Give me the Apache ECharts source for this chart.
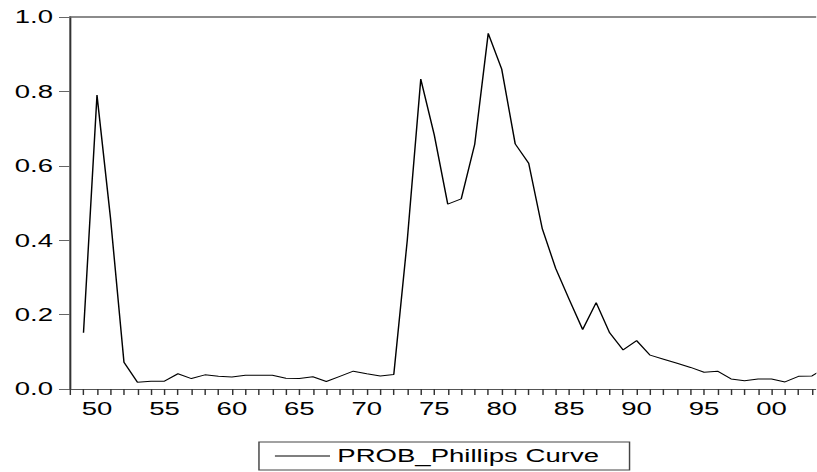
<!DOCTYPE html>
<html>
<head>
<meta charset="utf-8">
<script src="https://cdn.jsdelivr.net/npm/echarts@6/dist/echarts.min.js"></script>
<style>
  html, body { margin: 0; padding: 0; background: #fff; overflow: hidden; }
  #chart { width: 563.45px; height: 472px; transform: scaleX(1.45); transform-origin: 0 0; }
</style>
</head>
<body>
<div id="chart"></div>
<script>
// Data
var years = [1949,1950,1951,1952,1953,1954,1955,1956,1957,1958,1959,1960,1961,1962,1963,1964,1965,1966,1967,1968,1969,1970,1971,1972,1973,1974,1975,1976,1977,1978,1979,1980,1981,1982,1983,1984,1985,1986,1987,1988,1989,1990,1991,1992,1993,1994,1995,1996,1997,1998,1999,2000,2001,2002,2003,2004];
var probPhillips = [0.151,0.790,0.460,0.072,0.018,0.021,0.021,0.041,0.028,0.038,0.034,0.032,0.037,0.037,0.037,0.029,0.028,0.033,0.020,0.034,0.048,0.041,0.035,0.039,0.400,0.833,0.683,0.497,0.511,0.658,0.956,0.860,0.659,0.607,0.432,0.324,0.241,0.160,0.232,0.151,0.105,0.130,0.091,0.080,0.069,0.058,0.045,0.048,0.027,0.022,0.027,0.027,0.019,0.034,0.035,0.057];
var seriesName = 'PROB_Phillips Curve';
var yTicks = [0, 0.2, 0.4, 0.6, 0.8, 1.0];

var font = "'Liberation Sans', Arial, sans-serif";
var chart = echarts.init(document.getElementById('chart'), null, { renderer: 'svg' });
chart.setOption({
  animation: false,
  backgroundColor: '#fff',
  grid: { left: 48.28, right: 0, top: 17, bottom: 83, containLabel: false },
  legend: {
    data: [{ name: seriesName, icon: 'rect' }],
    left: 178.6,
    top: 442,
    orient: 'horizontal',
    itemWidth: 38,
    itemHeight: 1,
    padding: [4.5, 21, 4.5, 11],
    borderColor: '#444',
    borderWidth: 1,
    itemStyle: { color: '#000', borderWidth: 0 },
    lineStyle: { width: 0 },
    textStyle: { fontFamily: font, fontSize: 19, color: '#000', lineHeight: 19 }
  },
  xAxis: [{
    type: 'value',
    min: 1948,
    max: 2003.28,
    interval: 1,
    position: 'bottom',
    axisLine: { show: true, lineStyle: { color: '#555', width: 1 } },
    axisTick: { show: true, length: 6, lineStyle: { color: '#333', width: 1 } },
    axisLabel: {
      margin: 10,
      fontFamily: font, fontSize: 19, color: '#000',
      showMaxLabel: false,
      formatter: function (v) {
        var r = Math.round(v);
        if (Math.abs(v - r) > 1e-6 || r % 5 !== 0) return '';
        var s = String(r % 100);
        return s.length < 2 ? '0' + s : s;
      }
    },
    splitLine: { show: false }
  }, {
    type: 'value',
    min: 1948,
    max: 2003.28,
    position: 'top',
    axisLine: { show: true, lineStyle: { color: '#666', width: 1.5 } },
    axisTick: { show: false },
    axisLabel: { show: false },
    splitLine: { show: false }
  }],
  yAxis: {
    type: 'value',
    min: yTicks[0],
    max: yTicks[yTicks.length - 1],
    interval: 0.2,
    axisLine: { show: true, lineStyle: { color: '#333', width: 1.4 } },
    axisTick: { show: true, length: 7.6, lineStyle: { color: '#666', width: 1 } },
    axisLabel: {
      margin: 11.7,
      fontFamily: font, fontSize: 19, color: '#000',
      formatter: function (v) { return v.toFixed(1); }
    },
    splitLine: { show: false }
  },
  series: [{
    name: seriesName,
    type: 'line',
    xAxisIndex: 0,
    data: years.map(function (y, i) { return [y, probPhillips[i]]; }),
    symbol: 'none',
    clip: true,
    lineStyle: { color: '#000', width: 1 },
    itemStyle: { color: '#000' }
  }]
});
</script>
</body>
</html>
